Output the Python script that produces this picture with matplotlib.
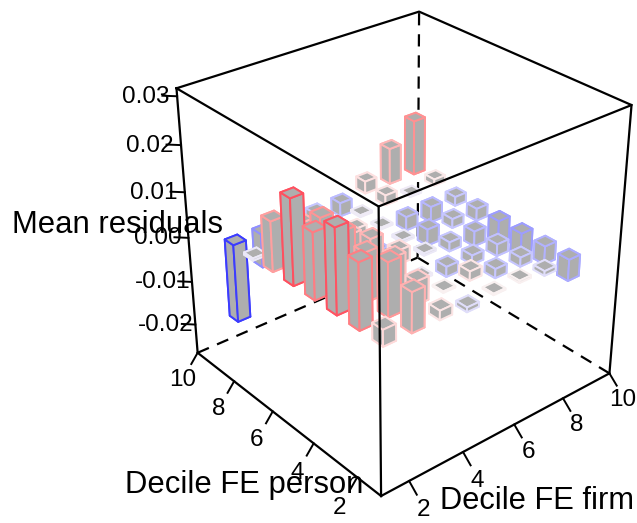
import numpy as np
import matplotlib
matplotlib.use('Agg')
import matplotlib.pyplot as plt
from matplotlib.colors import LinearSegmentedColormap
from mpl_toolkits.mplot3d import proj3d

plt.rcParams['font.family'] = ['Liberation Sans', 'DejaVu Sans']

# deciles that carry a bar
firm_deciles = [2, 3, 4, 5, 6, 7, 8, 9]
person_deciles = [9, 8, 7, 6, 5, 4, 3, 2]

# mean residuals, one row per person decile, one column per firm decile
resid_p9 = [-0.0175, -0.0075, -0.0020, -0.0020, -0.0030, 0.0027, 0.0080, 0.0122]
resid_p8 = [-0.0005, -0.0020, -0.0010, -0.0010, -0.0004, 0.0022, -0.0004, 0.0014]
resid_p7 = [0.0108, 0.0080, 0.0040, 0.0020, -0.0004, -0.0030, -0.0035, -0.0020]
resid_p6 = [0.0183, 0.0120, 0.0060, -0.0030, -0.0005, -0.0036, -0.0020, -0.0027]
resid_p5 = [0.0142, 0.0120, 0.0080, 0.0030, -0.0005, -0.0020, -0.0033, -0.0060]
resid_p4 = [0.0180, 0.0105, 0.0070, -0.0004, -0.0022, -0.0020, -0.0026, -0.0060]
resid_p3 = [0.0140, 0.0115, 0.0050, 0.0003, 0.0020, -0.0020, -0.0020, -0.0040]
resid_p2 = [0.0035, 0.0085, 0.0020, -0.0010, 0.0003, 0.0005, -0.0010, -0.0047]
resid = [resid_p9, resid_p8, resid_p7, resid_p6, resid_p5, resid_p4, resid_p3, resid_p2]

xy_ticks = [2, 4, 6, 8, 10]
z_ticks = [-0.02, -0.01, 0.00, 0.01, 0.02, 0.03]
z_ticklabels = ['-0.02', '-0.01', '0.00', '0.01', '0.02', '0.03']

xmin, xmax = 1.0, 10.0
ymin, ymax = 0.95, 10.0
zmin, zmax = -0.0268, 0.0316
bar_w = 0.45

edge_cmap = LinearSegmentedColormap.from_list('resid', [
    (0.0, '#2F2FFF'), (0.35, '#A0A0FF'), (0.45, '#C8C8FF'), (0.5, '#F8F4F4'),
    (0.6, '#FFD8D8'), (0.8, '#FF9A9A'), (1.0, '#FF4A5A')])

fig = plt.figure(figsize=(6.37, 5.23), dpi=100)
ax = fig.add_subplot(projection='3d', computed_zorder=False)
ax.set_position([136.51 / 637, 21.65 / 523, 515.94 / 637, 515.94 / 523])
ax.view_init(elev=30, azim=-130)
ax.set_proj_type('persp', focal_length=0.5515)
ax.set_box_aspect((1, 1, 1))
ax.set_xticks([])
ax.set_yticks([])
ax.set_zticks([])
ax.set_axis_off()

# bars hang off z = 0, far ones first
for i, p in enumerate(person_deciles):
    for j, f in enumerate(firm_deciles):
        v = resid[i][j]
        col = edge_cmap((v + 0.019) / 0.038)
        ax.bar3d(f - bar_w / 2, p - bar_w / 2, min(v, 0), bar_w, bar_w, abs(v),
                 color='#AEAEAE', edgecolor=col, linewidth=1.4, shade=False,
                 zorder=100 - p - f)

ax.set_xlim(xmin, xmax)
ax.set_ylim(ymin, ymax)
ax.set_zlim(zmin, zmax)

# hidden edges of the box, behind the bars
dash = (0, (5.5, 4))
box_kw = dict(color='black', lw=1.6)
ax.plot([xmax, xmax], [ymax, ymax], [zmin, zmax], ls=dash, zorder=1, **box_kw)
ax.plot([xmin, xmax], [ymax, ymax], [zmin, zmin], ls=dash, zorder=1, **box_kw)
ax.plot([xmax, xmax], [ymin, ymax], [zmin, zmin], ls=dash, zorder=1, **box_kw)

# the rest of the box on top
ax.plot([xmin, xmax, xmax, xmin, xmin], [ymax, ymax, ymin, ymin, ymax], [zmax] * 5, zorder=200, **box_kw)
ax.plot([xmin, xmin], [ymax, ymax], [zmin, zmax], zorder=200, **box_kw)
ax.plot([xmax, xmax], [ymin, ymin], [zmin, zmax], zorder=200, **box_kw)
ax.plot([xmin, xmin], [ymin, ymin], [zmin, zmax], zorder=200, **box_kw)
ax.plot([xmin, xmin], [ymin, ymax], [zmin, zmin], zorder=200, **box_kw)
ax.plot([xmin, xmax], [ymin, ymin], [zmin, zmin], zorder=200, **box_kw)

tick_kw = dict(color='black', lw=1.4, zorder=200)


def label3d(x, y, z, s):
    # projected by hand so the text sits at its real place on the axes
    u, v, _ = proj3d.proj_transform(x, y, z, ax.get_proj())
    ax.text2D(u, v, s, transform=ax.transData, fontsize=17.5, ha='center', va='center',
              color='black', zorder=300)


for t in xy_ticks:
    # person axis
    ax.plot([xmin, xmin - 0.26], [t, t], [zmin, zmin - 0.002], **tick_kw)
    label3d(xmin - 0.63, t, zmin - 0.0049, str(t))
    # firm axis
    ax.plot([t, t], [ymin, ymin - 0.33], [zmin, zmin - 0.0018], **tick_kw)
    label3d(t, ymin - 0.62, zmin - 0.0042, str(t))

for t, lab in zip(z_ticks, z_ticklabels):
    ax.plot([xmin, xmin - 0.3], [ymax, ymax + 0.3], [t, t], **tick_kw)
    label3d(xmin - 0.65, ymax + 0.65, t - 0.0004, lab)

fig.text(12 / 637, 1 - 225 / 523, 'Mean residuals', fontsize=22.3, ha='left', va='center', zorder=400)
fig.text(125 / 637, 1 - 493 / 523, 'Decile FE person', fontsize=22.3, ha='left', va='baseline', zorder=400)
fig.text(440 / 637, 1 - 509 / 523, 'Decile FE firm', fontsize=22.2, ha='left', va='baseline', zorder=400)

fig.savefig('out.png', dpi=100)
